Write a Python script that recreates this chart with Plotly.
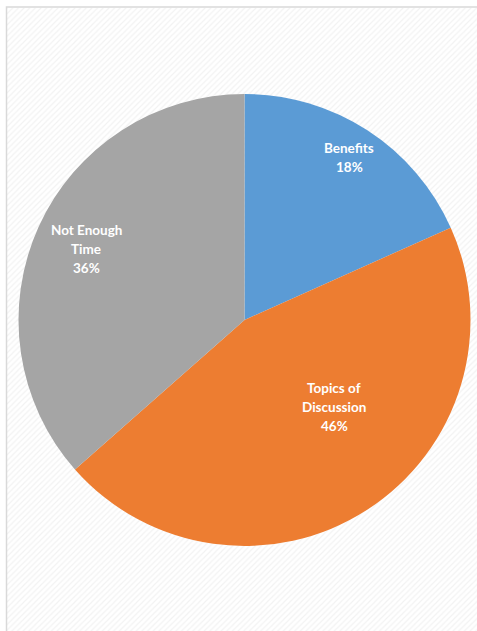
import plotly.graph_objects as go

categories = ["Benefits", "Topics of Discussion", "Not Enough Time"]
label_lines = [["Benefits"], ["Topics of", "Discussion"], ["Not Enough", "Time"]]
values = [18.3, 45.2, 36.5]          # slice sizes
percent_labels = ["18%", "46%", "36%"]  # percentages as printed on the chart
colors = ["#5B9BD5", "#ED7D31", "#A5A5A5"]

W, H = 477, 631
cx, cy, R = 244.5, 320, 226  # pixel geometry of pie
LINE = 19  # label line spacing in px
label_pos = [(349, 157.5), (334, 407), (86, 249)]  # label block centres (px)

fig = go.Figure()

# hatched chart-area background
fig.add_trace(go.Bar(
    x=[0.5], y=[1], width=[1],
    marker=dict(color="white", line=dict(width=0),
                pattern=dict(shape="/", fgcolor="#e6e6e6", bgcolor="white", size=4, solidity=0.3)),
    hoverinfo="skip", showlegend=False, xaxis="x", yaxis="y",
))

fig.add_trace(go.Pie(
    labels=categories, values=values, sort=False, direction="clockwise", rotation=0,
    marker=dict(colors=colors, line=dict(width=0)),
    textinfo="none", hoverinfo="label", showlegend=False,
    domain=dict(x=[(cx - R) / W, (cx + R) / W], y=[(H - cy - R) / H, (H - cy + R) / H]),
))

annotations = []
for lines, pct, (px, py) in zip(label_lines, percent_labels, label_pos):
    all_lines = lines + [pct]
    n = len(all_lines)
    for i, t in enumerate(all_lines):
        ly = py + (i - (n - 1) / 2) * LINE
        annotations.append(dict(
            x=px / W, y=1 - ly / H, xref="paper", yref="paper",
            text=f"<b>{t}</b>", showarrow=False,
            font=dict(family="Lato, Open Sans, sans-serif", size=13.5, color="white"),
            align="center", xanchor="center", yanchor="middle",
        ))

fig.update_layout(
    width=W, height=H,
    margin=dict(l=0, r=0, t=0, b=0),
    paper_bgcolor="white", plot_bgcolor="rgba(0,0,0,0)",
    xaxis=dict(domain=[7 / W, 1], range=[0, 1], visible=False, fixedrange=True),
    yaxis=dict(domain=[0, 1 - 8 / H], range=[0, 1], visible=False, fixedrange=True),
    bargap=0,
    annotations=annotations,
    shapes=[dict(type="rect", xref="paper", yref="paper",
                 x0=6.5 / W, x1=1.05, y0=-0.05, y1=1 - 7 / H,
                 line=dict(color="#d9d9d9", width=1.5), fillcolor="rgba(0,0,0,0)", layer="above")],
)

fig.write_html(
    "out.html",
    config={"displayModeBar": False},
    post_script="document.body.style.margin='0';document.body.style.padding='0';document.body.style.overflow='hidden';",
)
